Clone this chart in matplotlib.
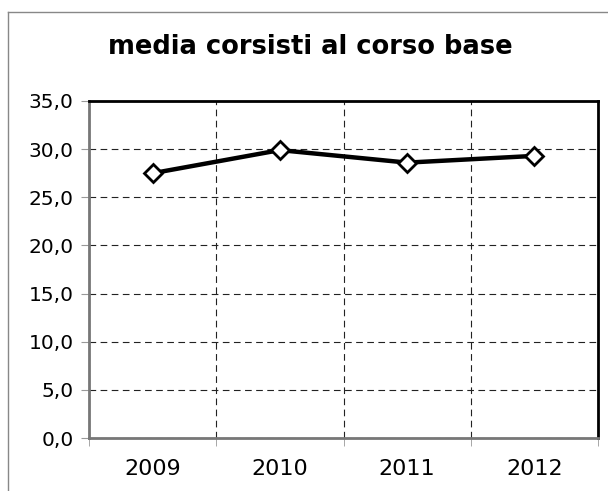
import matplotlib
matplotlib.use("Agg")
import matplotlib.pyplot as plt
from matplotlib.lines import Line2D
from matplotlib.ticker import FixedLocator, FuncFormatter

# dati
anni = ["2009", "2010", "2011", "2012"]
media = [27.5, 29.9, 28.6, 29.3]
y_ticks = [0, 5, 10, 15, 20, 25, 30, 35]

plt.rcParams['font.family'] = ['DejaVu Sans']

fig = plt.figure(figsize=(6.08, 4.91), dpi=100)
W, H = 608, 491
ax = fig.add_axes([89 / W, 1 - 438 / H, (598 - 89) / W, (438 - 101) / H])

x = list(range(len(anni)))
ax.plot(x, media, color='black', lw=3.2, marker='D', ms=9,
        markerfacecolor='white', markeredgecolor='black', mew=2, zorder=5,
        solid_joinstyle='miter')

ax.set_xlim(-0.5, len(anni) - 0.5)
ax.set_ylim(0, 35)
ax.set_yticks(y_ticks)
ax.yaxis.set_major_formatter(FuncFormatter(lambda v, p: f"{v:.1f}".replace('.', ',')))
ax.set_xticks(x)
ax.set_xticklabels(anni)
ax.xaxis.set_minor_locator(FixedLocator([i - 0.5 for i in range(len(anni) + 1)]))
ax.tick_params(axis='x', which='major', length=0, pad=15, labelsize=16)
ax.tick_params(axis='x', which='minor', length=6, color='#999999', direction='out')
ax.tick_params(axis='y', length=6, color='#999999', pad=5, labelsize=14.5)

ax.grid(axis='y', which='major', color='#222222', ls=(0, (6, 4)), lw=0.8)
ax.grid(axis='x', which='minor', color='#222222', ls=(0, (6, 4)), lw=0.8)

for side in ['top', 'right']:
    ax.spines[side].set_color('black')
    ax.spines[side].set_linewidth(2)
for side in ['left', 'bottom']:
    ax.spines[side].set_color('#777777')
    ax.spines[side].set_linewidth(2)

fig.text(310 / W, 1 - 47 / H, "media corsisti al corso base", ha='center',
         va='center', fontsize=18.5, fontweight='bold')

# bordo del grafico
fig.add_artist(Line2D([8 / W, 1], [1 - 12 / H] * 2, color='#888888', lw=1,
                      transform=fig.transFigure))
fig.add_artist(Line2D([8 / W] * 2, [0, 1 - 12 / H], color='#888888', lw=1,
                      transform=fig.transFigure))

fig.savefig("out.png", dpi=100)
